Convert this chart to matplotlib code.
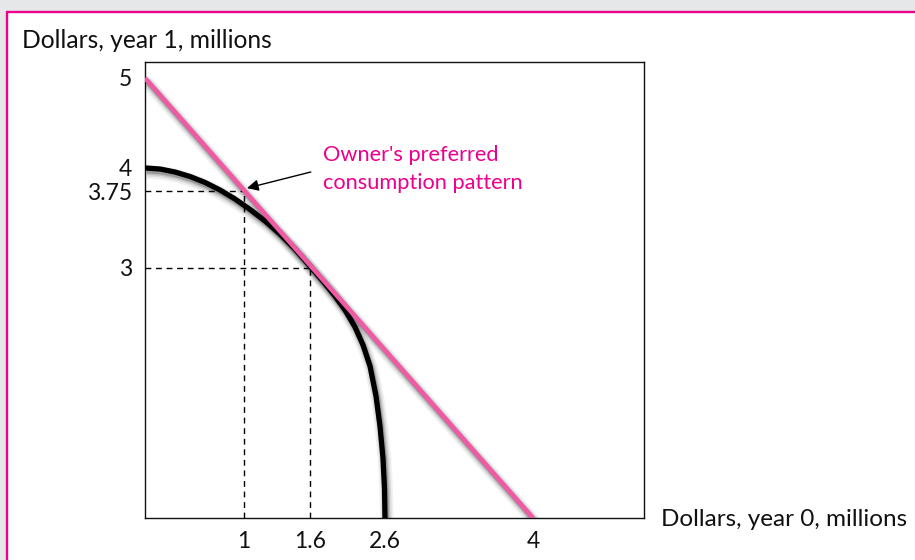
import numpy as np
import matplotlib
matplotlib.use("Agg")
import matplotlib.pyplot as plt
from matplotlib import patheffects as pe
from matplotlib.patches import Rectangle
from matplotlib.ticker import NullLocator

plt.rcParams['font.family'] = ['Lato', 'DejaVu Sans']

# data (millions of dollars)
x_ticks = [1, 1.6, 2.6, 4]
x_tick_labels = ['1', '1.6', '2.6', '4']
y_ticks = [3, 3.75, 4, 5]
y_tick_labels = ['3', '3.75', '4', '5']

# investment opportunity curve
curve_x = [0, 0.152, 0.303, 0.455, 0.606, 0.758, 0.909, 1.055, 1.191, 1.327, 1.464,
           1.6, 1.8, 1.933, 2.067, 2.2, 2.307, 2.4, 2.48, 2.533, 2.573, 2.593, 2.6]
curve_y = [3.99, 3.979, 3.948, 3.901, 3.839, 3.76, 3.672, 3.57, 3.458, 3.331, 3.185,
           3.019, 2.814, 2.664, 2.496, 2.292, 2.076, 1.824, 1.464, 1.104, 0.72, 0.36, 0.0]

# market (borrowing / lending) line
line_x = [0, 4]
line_y = [5, 0]

preferred = (1, 3.75)
tangent = (1.6, 3)

PINK_TXT = '#EC008C'
PINK_LINE = '#F05AA5'

# schematic axis spacing of the textbook drawing (value -> pixel)
x_knots = [0, 1, 1.6, 2.6, 4, 6]
x_pix = [0, 99, 165, 240, 388, 582]
y_knots = [0, 3, 3.75, 4, 5, 6]
y_pix = [0, 250, 327, 351, 440, 528]


def fx(v):
    return np.interp(v, x_knots, x_pix)


def ix(p):
    return np.interp(p, x_pix, x_knots)


def fy(v):
    return np.interp(v, y_knots, y_pix)


def iy(p):
    return np.interp(p, y_pix, y_knots)


def shadow(lw):
    # soft grey drop shadow, built from a few widening strokes
    return [pe.SimpleLineShadow(offset=(1.3, -2.8), shadow_color='k', alpha=0.06, linewidth=lw + 6),
            pe.SimpleLineShadow(offset=(1.2, -2.5), shadow_color='k', alpha=0.09, linewidth=lw + 3.5),
            pe.SimpleLineShadow(offset=(1.1, -2.2), shadow_color='k', alpha=0.13, linewidth=lw + 1.5),
            pe.SimpleLineShadow(offset=(1.0, -2.0), shadow_color='k', alpha=0.18, linewidth=lw),
            pe.Normal()]


fig = plt.figure(figsize=(9.15, 5.6), dpi=100)
fig.patch.set_facecolor('#E6E7E9')
fig.patches.append(Rectangle((7 / 915, -0.1), 1.2, 0.1 + (560 - 12) / 560,
                             transform=fig.transFigure, facecolor='white',
                             edgecolor=PINK_TXT, linewidth=1.7, zorder=-5))

ax = fig.add_axes([145 / 915, (560 - 518) / 560, 499 / 915, 456 / 560])
ax.set_xscale('function', functions=(fx, ix))
ax.set_yscale('function', functions=(fy, iy))
ax.set_xlim(0, float(ix(499)))
ax.set_ylim(0, float(iy(456)))

dash = (0, (4.2, 3.4))
ax.plot([0, preferred[0]], [preferred[1]] * 2, color='k', lw=1, ls=dash, zorder=1)
ax.plot([preferred[0]] * 2, [0, preferred[1]], color='k', lw=1, ls=dash, zorder=1)
ax.plot([0, tangent[0]], [tangent[1]] * 2, color='k', lw=1, ls=dash, zorder=1)
ax.plot([tangent[0]] * 2, [0, tangent[1]], color='k', lw=1, ls=dash, zorder=1)

ax.plot(curve_x, curve_y, color='k', lw=3.8, solid_joinstyle='round',
        solid_capstyle='butt', path_effects=shadow(3.8), zorder=3)
ax.plot(line_x, line_y, color=PINK_LINE, lw=3.3, solid_capstyle='butt',
        path_effects=shadow(3.3), zorder=4)

ax.annotate("Owner's preferred\nconsumption pattern",
            xy=(1.027, 3.78), xytext=(1.773, 3.98), textcoords='data',
            ha='left', va='center', fontsize=15.7, color=PINK_TXT, linespacing=1.45,
            arrowprops=dict(arrowstyle='-|>', color='k', lw=1, mutation_scale=17,
                            relpos=(0, 0.5), shrinkA=7, shrinkB=0),
            zorder=5)

ax.set_xticks(x_ticks)
ax.set_xticklabels(x_tick_labels)
ax.set_yticks(y_ticks)
ax.set_yticklabels(y_tick_labels)
ax.xaxis.set_minor_locator(NullLocator())
ax.yaxis.set_minor_locator(NullLocator())
ax.tick_params(axis='both', length=0, labelsize=16.5, labelcolor='#111111')
ax.tick_params(axis='x', pad=9.5)
ax.tick_params(axis='y', pad=9.5)
for s in ax.spines.values():
    s.set_linewidth(1)
    s.set_color('#111111')

fig.text(22 / 915, 1 - 48 / 560, 'Dollars, year 1, millions', fontsize=17.7,
         ha='left', va='baseline', color='#111111')
ax.annotate('Dollars, year 0, millions', xy=(1, 0), xycoords='axes fraction',
            xytext=(12.2, -5.8), textcoords='offset points', ha='left', va='baseline',
            fontsize=17.5, color='#111111')

fig.savefig('out.png', dpi=100, facecolor=fig.get_facecolor())
